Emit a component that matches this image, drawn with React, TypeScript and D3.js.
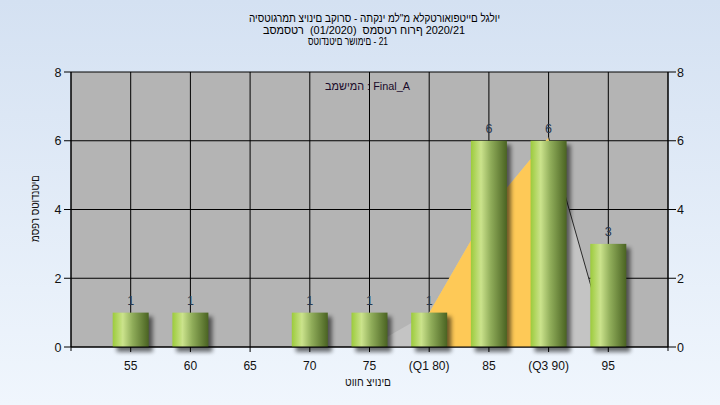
import React from "react";
import * as d3 from "d3";

const W = 720;
const H = 405;

const titleLines = [
  "היסטוגרמת ציונים בקורס - התקני מל\"מ אלקטרואופטיים לגלוי",
  "בסמסטר  (01/2020)  סמסטר חורף 2020/21",
  "סטודנטים רשומים - 21",
];
const legendText = "במשימה : Final_A";
const xTitle = "טווח ציונים";
const yTitle = "מספר סטודנטים";

const categories = [55, 60, 65, 70, 75, 80, 85, 90, 95];
const categoryLabels = ["55", "60", "65", "70", "75", "(Q1 80)", "85", "(Q3 90)", "95"];
const counts = [1, 1, 0, 1, 1, 1, 6, 6, 3];
const yTicks = [0, 2, 4, 6, 8];

// background distribution curve
const curveX = [75, 80, 85, 90, 95];
const curveY = [0, 1, 4, 6.1, 0];
const q1 = 80;
const q3 = 90;

const left = 71;
const right = 668;
const top = 72;
const bottom = 347;

const FONT = "'Liberation Sans', Arial, 'DejaVu Sans', sans-serif";
// the reference draws glyphs in stored order, left to right (no bidi reordering)
const noBidi = { unicodeBidi: "bidi-override", direction: "ltr", whiteSpace: "pre" } as any;

export default function App() {
  const x = d3.scaleLinear().domain([50, 100]).range([left, right]);
  const y = d3.scaleLinear().domain([0, 8]).range([bottom, top]);
  const barW = 36;
  const gridX = d3.range(50, 101, 5);

  const pts = curveX.map((v, i) => [v, curveY[i]] as [number, number]);
  const area = d3
    .area<[number, number]>()
    .x((d) => x(d[0]))
    .y0(y(0))
    .y1((d) => y(d[1]));
  const line = d3
    .line<[number, number]>()
    .x((d) => x(d[0]))
    .y((d) => y(d[1]));
  const tailIdx = curveX.indexOf(q3);
  const tail = pts.slice(tailIdx);

  const titleX = [374.5, 364, 348];
  const titleLen = [251, 202, 80];

  return (
    <svg
      width={W}
      height={H}
      style={{ position: "fixed", left: 0, top: 0, display: "block" }}
      fontFamily={FONT}
    >
      <defs>
        <linearGradient id="bg" x1="0" y1="0" x2="0" y2="1">
          <stop offset="0" stopColor="#d4e1f2" />
          <stop offset="1" stopColor="#f0f6fd" />
        </linearGradient>
        <linearGradient id="bar" x1="0" y1="0" x2="1" y2="0">
          <stop offset="0" stopColor="#9ccb3c" />
          <stop offset="0.28" stopColor="#cbe38c" />
          <stop offset="0.55" stopColor="#90ad5a" />
          <stop offset="1" stopColor="#4a6322" />
        </linearGradient>
        <filter id="blur" x="-50%" y="-50%" width="200%" height="200%">
          <feGaussianBlur stdDeviation="2" />
        </filter>
        <clipPath id="plotClip">
          <rect x={left} y={top} width={right - left} height={bottom - top} />
        </clipPath>
        <clipPath id="iqr">
          <rect x={x(q1)} y={top} width={x(q3) - x(q1)} height={bottom - top} />
        </clipPath>
      </defs>

      <rect x={0} y={0} width={W} height={H} fill="url(#bg)" />

      {/* titles */}
      {titleLines.map((t, i) => (
        <text
          key={i}
          x={titleX[i]}
          y={22 + i * 11.5}
          fontSize={11.5}
          textAnchor="middle"
          fill="#000"
          textLength={titleLen[i]}
          lengthAdjust="spacingAndGlyphs"
          style={noBidi}
        >
          {t}
        </text>
      ))}

      {/* plot background */}
      <rect x={left} y={top} width={right - left} height={bottom - top} fill="#b4b4b4" />

      {/* gridlines */}
      {yTicks.map((t) => (
        <line key={"gy" + t} x1={left} x2={right} y1={y(t)} y2={y(t)} stroke="#000" strokeWidth={1} />
      ))}
      {gridX.map((g) => (
        <line key={"gx" + g} x1={x(g)} x2={x(g)} y1={top} y2={bottom} stroke="#000" strokeWidth={1} />
      ))}

      {/* distribution area */}
      <g clipPath="url(#plotClip)">
        <path d={area(pts) || ""} fill="#c4c4c4" />
        <path d={area(pts) || ""} fill="#fec957" clipPath="url(#iqr)" />
        <path d={line(tail) || ""} fill="none" stroke="#2b2b2b" strokeWidth={1} />
      </g>

      {/* bars */}
      {categories.map((c, i) =>
        counts[i] > 0 ? (
          <g key={"b" + c}>
            <rect
              x={x(c) - barW / 2 + 4}
              y={y(counts[i]) + 4}
              width={barW}
              height={y(0) - y(counts[i]) + 1}
              fill="#000"
              opacity={0.55}
              filter="url(#blur)"
            />
            <rect
              x={x(c) - barW / 2}
              y={y(counts[i])}
              width={barW}
              height={y(0) - y(counts[i])}
              fill="url(#bar)"
            />
          </g>
        ) : null
      )}

      {/* value labels */}
      {categories.map((c, i) =>
        counts[i] > 0 ? (
          <text
            key={"v" + c}
            x={x(c)}
            y={y(counts[i]) - 8}
            fontSize={12.5}
            textAnchor="middle"
            fill="#27374f"
          >
            {counts[i]}
          </text>
        ) : null
      )}

      {/* legend */}
      <text x={325} y={90} fontSize={11.5} fill="#1a0a2a" textLength={85} lengthAdjust="spacingAndGlyphs" style={noBidi}>
        {legendText}
      </text>

      {/* axes */}
      <line x1={left} x2={left} y1={top} y2={bottom + 4} stroke="#000" />
      <line x1={right} x2={right} y1={top} y2={bottom + 4} stroke="#000" />
      <line x1={left} x2={right} y1={bottom} y2={bottom} stroke="#000" />
      {yTicks.map((t) => (
        <g key={"yt" + t}>
          <line x1={left - 7} x2={left} y1={y(t)} y2={y(t)} stroke="#000" />
          <text x={61.5} y={y(t) + 4.5} fontSize={12.5} textAnchor="end" fill="#111">
            {t}
          </text>
          <line x1={right} x2={right + 8} y1={y(t)} y2={y(t)} stroke="#000" />
          <text x={677} y={y(t) + 4.5} fontSize={12.5} textAnchor="start" fill="#111">
            {t}
          </text>
        </g>
      ))}
      {categories.map((c, i) => (
        <g key={"xt" + c}>
          <line x1={x(c)} x2={x(c)} y1={bottom} y2={bottom + 5} stroke="#000" />
          <text x={x(c)} y={370} fontSize={12} textAnchor="middle" fill="#111">
            {categoryLabels[i]}
          </text>
        </g>
      ))}

      <text x={368} y={386} fontSize={11.5} textAnchor="middle" fill="#111" textLength={46} lengthAdjust="spacingAndGlyphs" style={noBidi}>
        {xTitle}
      </text>
      <text
        transform={`translate(39,208.5) rotate(-90)`}
        fontSize={11.5}
        textAnchor="middle"
        fill="#111"
        textLength={67}
        lengthAdjust="spacingAndGlyphs"
        style={noBidi}
      >
        {yTitle}
      </text>
    </svg>
  );
}
